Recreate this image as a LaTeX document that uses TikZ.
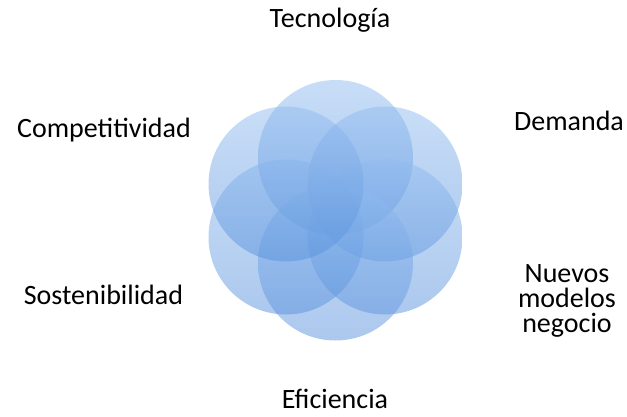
\documentclass[tikz,border=0pt]{standalone}
\usepackage{fontspec}
\setmainfont{Carlito}
\definecolor{ctop}{RGB}{145,188,240}
\definecolor{cbot}{RGB}{88,145,220}
\tikzset{
  petal/.style={circle, minimum size=155pt, inner sep=0pt, draw=none,
    top color=ctop, bottom color=cbot, fill opacity=0.5},
  lbl/.style={anchor=base, font=\fontsize{28}{25}\selectfont, text=black, inner sep=0pt, align=center}
}
\begin{document}
\begin{tikzpicture}[x=1pt,y=1pt]
\useasboundingbox (0,0) rectangle (627,416);
\node[petal] (c1) at (335.5,258.5) {};
\node[petal] (c2) at (385,232) {};
\node[petal] (c3) at (385,179) {};
\node[petal] (c4) at (335.5,153) {};
\node[petal] (c5) at (286,179) {};
\node[petal] (c6) at (286,232) {};
\node[lbl] (t1) at (330,388) {Tecnología};
\node[lbl] (t2) at (569,286) {Demanda};
\node[lbl] (t3) at (104,279) {Competitividad};
\node[lbl] (t4) at (103.5,112) {Sostenibilidad};
\node[lbl, anchor=north] (t5) at (567,152) {Nuevos\\modelos\\negocio};
\node[lbl] (t6) at (335,8) {Eficiencia};
\end{tikzpicture}
\end{document}
